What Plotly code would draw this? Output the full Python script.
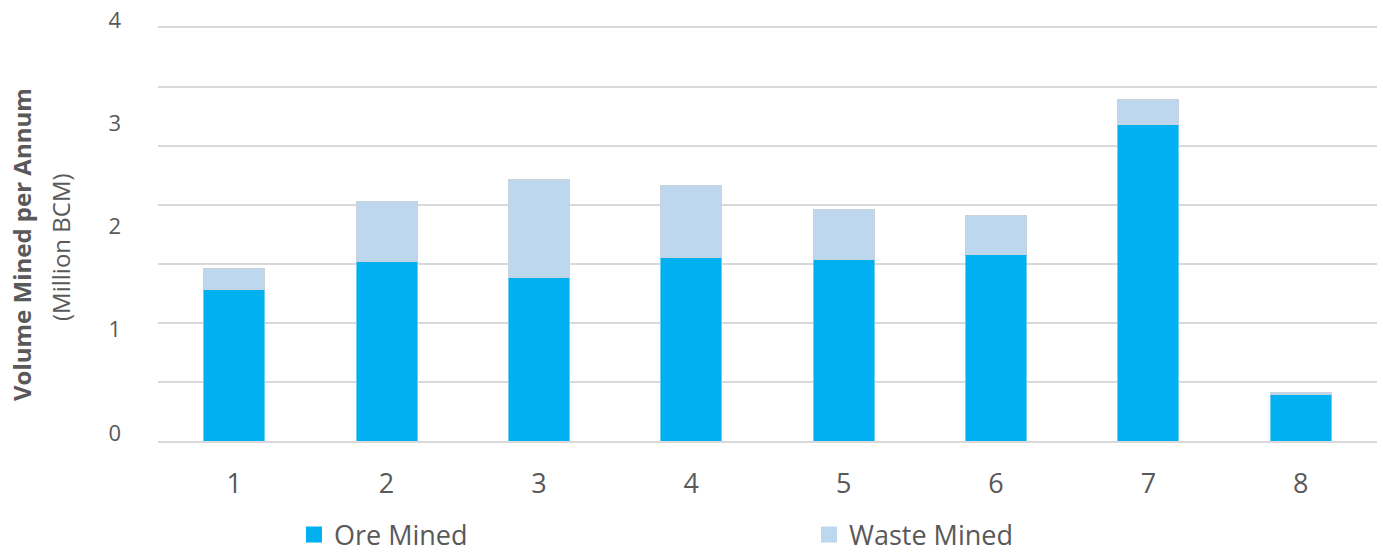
import plotly.graph_objects as go

# Annual mined volumes (million BCM) per period
periods = ["1", "2", "3", "4", "5", "6", "7", "8"]
ore_mined = [1.47, 1.74, 1.58, 1.78, 1.76, 1.81, 3.07, 0.45]
waste_mined = [0.20, 0.58, 0.95, 0.69, 0.48, 0.37, 0.24, 0.02]

y_labels = [0, 1, 2, 3, 4]
grid_step = 4 / 7
grid_vals = [i * grid_step for i in range(8)]

ORE = "#00B0F0"
WASTE = "#BDD7EE"
TEXT = "#595959"
GRID = "#D9D9D9"
FONT = "Open Sans"

W, H = 1383, 553
L, R, T, B = 158, 6, 28, 112
PW, PH = W - L - R, H - T - B


def px_x(px):
    return (px - L) / PW


def px_y(py):
    return (H - B - py) / PH


fig = go.Figure()
fig.add_trace(go.Bar(
    x=periods, y=ore_mined, name="Ore Mined",
    marker=dict(color=ORE, line=dict(color="#6CCDF2", width=1)),
    showlegend=False,
))
fig.add_trace(go.Bar(
    x=periods, y=waste_mined, name="Waste Mined",
    marker=dict(color=WASTE, line=dict(color="#C9D3DD", width=1)),
    showlegend=False,
))

# legend entries with larger square swatches
for name, col in [("Ore Mined", ORE), ("Waste Mined", WASTE)]:
    fig.add_trace(go.Scatter(
        x=[None], y=[None], mode="markers", name=name,
        marker=dict(symbol="square", size=16, color=col),
    ))

fig.update_layout(
    width=W, height=H,
    margin=dict(l=L, r=R, t=T, b=B, pad=0, autoexpand=False),
    barmode="stack",
    bargap=0.6,
    plot_bgcolor="white",
    paper_bgcolor="white",
    font=dict(family=FONT, color=TEXT),
    showlegend=True,
    legend=dict(
        orientation="h",
        traceorder="normal",
        x=px_x(294), xanchor="left",
        y=px_y(535), yanchor="middle",
        font=dict(size=27, color=TEXT, family=FONT),
        entrywidth=470, entrywidthmode="pixels",
        bgcolor="rgba(0,0,0,0)",
        itemclick=False,
    ),
    xaxis=dict(
        type="category",
        automargin=False,
        showgrid=False,
        showline=True,
        mirror=True,
        linecolor=GRID,
        linewidth=2,
        zeroline=False,
        ticks="",
        tickfont=dict(size=27, color=TEXT, family=FONT),
        ticklabelstandoff=18,
    ),
    yaxis=dict(
        range=[0, 4],
        automargin=False,
        tickvals=y_labels,
        ticktext=[str(v) for v in y_labels],
        showgrid=False,
        zeroline=False,
        showline=False,
        ticks="",
        tickfont=dict(size=22, color=TEXT, family=FONT),
        ticklabelstandoff=36,
        ticklabelshift=-8,
        minor=dict(
            tickvals=grid_vals,
            showgrid=True,
            gridcolor=GRID,
            gridwidth=2,
            ticks="",
        ),
    ),
)

fig.add_annotation(
    text="<b>Volume Mined per Annum</b>",
    xref="paper", yref="paper",
    x=px_x(22), y=px_y(245),
    xanchor="center", yanchor="middle",
    textangle=-90, showarrow=False,
    font=dict(size=24, color=TEXT, family=FONT),
)
fig.add_annotation(
    text="(Million BCM)",
    xref="paper", yref="paper",
    x=px_x(60), y=px_y(247),
    xanchor="center", yanchor="middle",
    textangle=-90, showarrow=False,
    font=dict(size=24, color=TEXT, family=FONT),
)

fig.write_html("out.html")
